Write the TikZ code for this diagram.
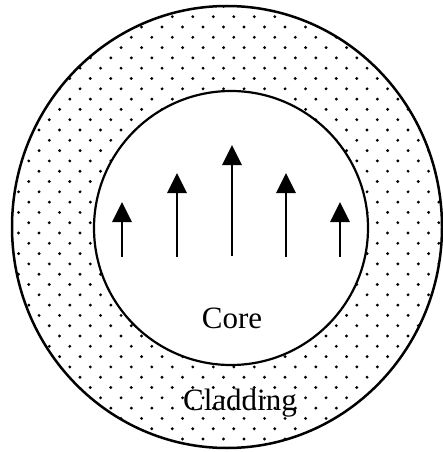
\documentclass[tikz,border=0pt]{standalone}
\usepackage{fontspec}
\setmainfont{Liberation Serif}
\usetikzlibrary{arrows.meta}
\tikzset{
  ring/.style={draw=black, line width=2.5pt},
  field/.style={line width=2.8pt, -{Triangle[width=19pt,length=20pt]}},
  dotmark/.style={fill=black},
  lbl/.style={font=\fontsize{31}{31}\selectfont, inner sep=0pt, anchor=base}
}
\begin{document}
\begin{tikzpicture}[x=1pt,y=-1pt]
\useasboundingbox (0,0) rectangle (443,452);
% cladding dots
\begin{scope}
  \clip (227,227) ellipse [x radius=215pt, y radius=221pt];
  \foreach \n in {-2,...,45}{
    \pgfmathsetmacro{\yy}{16.7+10.3*\n}
    \pgfmathsetmacro{\xo}{isodd(\n) ? 18.55 : 8.3}
    \foreach \k in {-1,...,22}{
      \fill[dotmark] ({\xo+20.5*\k},\yy) circle (1.6pt);
    }
  }
\end{scope}
% core
\fill[white] (231,228) circle (137pt);
\draw[ring] (227,227) ellipse [x radius=215pt, y radius=221pt];
\draw[ring, line width=2.2pt] (231,228) circle (137pt);
% arrows
\coordinate (a1s) at (122,257); \coordinate (a1e) at (122,202);
\coordinate (a2s) at (177,257); \coordinate (a2e) at (177,173);
\coordinate (a3s) at (232,256); \coordinate (a3e) at (232,145);
\coordinate (a4s) at (286,257); \coordinate (a4e) at (286,173);
\coordinate (a5s) at (340,257); \coordinate (a5e) at (340,202);
\draw[field] (a1s) -- (a1e);
\draw[field] (a2s) -- (a2e);
\draw[field] (a3s) -- (a3e);
\draw[field] (a4s) -- (a4e);
\draw[field] (a5s) -- (a5e);
% labels
\node[lbl] (core) at (232,328) {Core};
\node[lbl] (clad) at (240,410) {Cladding};
\end{tikzpicture}
\end{document}
